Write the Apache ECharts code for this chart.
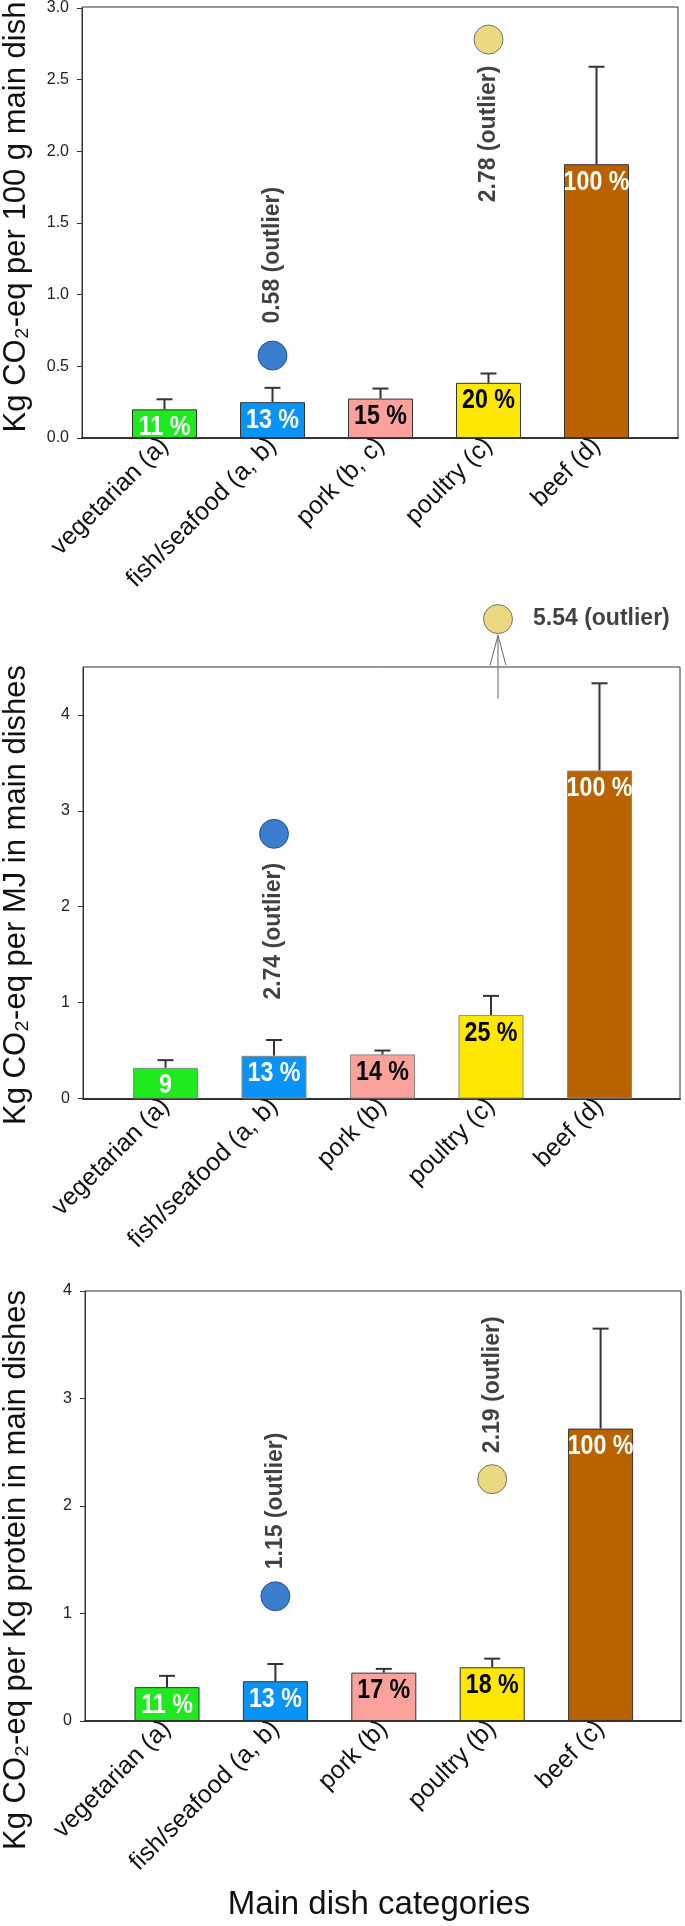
<!DOCTYPE html>
<html>
<head>
<meta charset="utf-8">
<script src="https://cdn.jsdelivr.net/npm/echarts@6/dist/echarts.min.js"></script>
<style>
html,body{margin:0;padding:0;background:#fff;}
#chart{width:685px;height:1926px;}
</style>
</head>
<body>
<div id="chart"></div>
<script>
// ---------------- DATA ----------------
const categories1 = ['vegetarian (a)', 'fish/seafood (a, b)', 'pork (b, c)', 'poultry (c)', 'beef (d)'];
const categories2 = ['vegetarian (a)', 'fish/seafood (a, b)', 'pork (b)', 'poultry (c)', 'beef (d)'];
const categories3 = ['vegetarian (a)', 'fish/seafood (a, b)', 'pork (b)', 'poultry (b)', 'beef (c)'];

const means1 = [0.20, 0.25, 0.275, 0.385, 1.91];
const upper1 = [0.27, 0.35, 0.345, 0.45, 2.59];
const pct1 = ['11 %', '13 %', '15 %', '20 %', '100 %'];

const means2 = [0.32, 0.445, 0.46, 0.87, 3.42];
const upper2 = [0.40, 0.61, 0.50, 1.07, 4.33];
const pct2 = ['9', '13 %', '14 %', '25 %', '100 %'];

const means3 = [0.315, 0.37, 0.45, 0.50, 2.72];
const upper3 = [0.42, 0.53, 0.485, 0.58, 3.65];
const pct3 = ['11 %', '13 %', '17 %', '18 %', '100 %'];

// outliers: category index, plotted value, label
const outlierIdx1 = [1, 3];
const outlierVal1 = [0.575, 2.78];
const outlierTxt1 = ['0.58 (outlier)', '2.78 (outlier)'];

const outlierIdx2 = [1, 3];
const outlierVal2 = [2.76, 5.0];          // 5.54 is off-scale, drawn just above the frame
const outlierTxt2 = ['2.74 (outlier)', '5.54 (outlier)'];
const arrowIdx2 = 3;
const arrowFrom2 = 4.17;
const arrowTo2 = 4.83;

const outlierIdx3 = [1, 3];
const outlierVal3 = [1.16, 2.25];
const outlierTxt3 = ['1.15 (outlier)', '2.19 (outlier)'];

const yMax = [3, 4.5, 4];
const yInterval = [0.5, 1, 1];

const yTitles = ['Kg CO\u2082-eq per 100 g main dish', 'Kg CO\u2082-eq per MJ in main dishes', 'Kg CO\u2082-eq per Kg protein in main dishes'];
const xTitle = 'Main dish categories';

// ---------------- STYLE ----------------
const FONT = '"Liberation Sans", Arial, sans-serif';
const barColors = ['#1DEB1D', '#0A93F7', '#F9A19A', '#FFE800', '#BA6100'];
const pctColors = ['#ffffff', '#ffffff', '#000000', '#000000', '#ffffff'];
const outlierColors = ['#0B5EC2', '#E6CF62'];
const outlierBorders = ['#123f85', '#555555'];

const layouts = [
  {frameLeft: 82, frameWidth: 596, mainLeft: 110.5, mainWidth: 540, top: 7, height: 431, barBorder: '#333'},
  {frameLeft: 83, frameWidth: 597, mainLeft: 111.25, mainWidth: 542.5, top: 667, height: 431.5, barBorder: '#8a8a8a'},
  {frameLeft: 85, frameWidth: 596, mainLeft: 112.8, mainWidth: 542, top: 1291, height: 430, barBorder: '#333'}
];

const outlierLabelPos = [
  [{position: 'top', distance: 17, rotate: 90, align: 'left'}, {position: 'bottom', distance: 11, rotate: 90, align: 'right'}],
  [{position: 'bottom', distance: 14, rotate: 90, align: 'right'}, {position: 'right', distance: 13, rotate: 0, align: 'left', offset: [7, 0]}],
  [{position: 'top', distance: 12, rotate: 90, align: 'left'}, {position: 'top', distance: 11, rotate: 90, align: 'left'}]
];

const panels = [
  {cats: categories1, means: means1, upper: upper1, pct: pct1, oi: outlierIdx1, ov: outlierVal1, ot: outlierTxt1},
  {cats: categories2, means: means2, upper: upper2, pct: pct2, oi: outlierIdx2, ov: outlierVal2, ot: outlierTxt2},
  {cats: categories3, means: means3, upper: upper3, pct: pct3, oi: outlierIdx3, ov: outlierVal3, ot: outlierTxt3}
];

const grid = [], xAxis = [], yAxis = [], series = [];

panels.forEach(function (p, k) {
  const L = layouts[k];
  const gMain = 2 * k, gFrame = 2 * k + 1;
  grid.push({left: L.mainLeft, top: L.top, width: L.mainWidth, height: L.height, show: false});
  grid.push({left: L.frameLeft, top: L.top, width: L.frameWidth, height: L.height, show: true,
    borderColor: '#333', borderWidth: 1, backgroundColor: 'transparent'});

  xAxis.push({
    gridIndex: gMain, type: 'category', data: p.cats,
    axisLine: {show: false}, axisTick: {show: false},
    axisLabel: {rotate: 45, margin: 4, padding: [34, 0, 0, 0], fontSize: 25, fontFamily: FONT, color: '#111', interval: 0}
  });
  xAxis.push({
    gridIndex: gFrame, type: 'value', min: 0, max: 1,
    axisLabel: {show: false}, axisTick: {show: false}, splitLine: {show: false},
    axisLine: {show: true, lineStyle: {color: '#333', width: 2}}
  });
  yAxis.push({
    gridIndex: gMain, type: 'value', min: 0, max: yMax[k], interval: yInterval[k],
    offset: L.mainLeft - L.frameLeft,
    axisLine: {show: true, lineStyle: {color: '#333', width: 1}},
    axisTick: {show: true, length: 5, lineStyle: {color: '#333'}},
    splitLine: {show: false},
    axisLabel: {
      margin: 13, fontSize: 16, fontFamily: FONT, color: '#222', showMaxLabel: k !== 1,
      formatter: function (v) { return k === 0 ? v.toFixed(1) : String(v); }
    }
  });
  yAxis.push({gridIndex: gFrame, type: 'value', min: 0, max: 1, show: false});

  // bars
  series.push({
    type: 'bar', xAxisIndex: gMain, yAxisIndex: gMain, barWidth: 65, z: 2,
    data: p.means.map(function (v, i) {
      return {value: v, itemStyle: {color: barColors[i]}};
    }),
    itemStyle: {borderColor: L.barBorder, borderWidth: 1}
  });

  // condensed bold percentage labels inside the bars
  series.push({
    type: 'custom', xAxisIndex: gMain, yAxisIndex: gMain, z: 5, clip: false,
    data: p.means.map(function (v, i) { return [i, v]; }),
    renderItem: function (params, api) {
      const i = api.value(0);
      const c = api.coord([i, api.value(1)]);
      return {
        type: 'text', x: c[0], y: c[1] + 18, scaleX: 0.86,
        style: {text: p.pct[params.dataIndex], fontSize: 27, fontWeight: 'bold', fontFamily: FONT,
          fill: pctColors[params.dataIndex], align: 'center', verticalAlign: 'middle'}
      };
    }
  });

  // error bars (upper only)
  series.push({
    type: 'custom', xAxisIndex: gMain, yAxisIndex: gMain, z: 3, clip: false,
    data: p.means.map(function (v, i) { return [i, v, p.upper[i]]; }),
    renderItem: function (params, api) {
      const a = api.coord([api.value(0), api.value(1)]);
      const b = api.coord([api.value(0), api.value(2)]);
      const st = {stroke: '#333', lineWidth: 2};
      return {type: 'group', children: [
        {type: 'line', shape: {x1: a[0], y1: a[1], x2: b[0], y2: b[1]}, style: st},
        {type: 'line', shape: {x1: b[0] - 8, y1: b[1], x2: b[0] + 8, y2: b[1]}, style: st}
      ]};
    }
  });

  // outliers
  series.push({
    type: 'scatter', xAxisIndex: gMain, yAxisIndex: gMain, z: 4, clip: false, symbolSize: 29,
    data: p.oi.map(function (ci, j) {
      const lp = outlierLabelPos[k][j];
      return {
        value: [ci, p.ov[j]],
        symbolOffset: lp.offset || [0, 0],
        itemStyle: {color: outlierColors[j], borderColor: outlierBorders[j], borderWidth: 1},
        label: {
          show: true, formatter: p.ot[j], position: lp.position, distance: lp.distance,
          rotate: lp.rotate, align: lp.align, verticalAlign: 'middle',
          offset: lp.offset ? [lp.offset[0], 0] : [0, 0],
          fontSize: 23, fontWeight: 'bold', fontFamily: FONT, color: '#111'
        }
      };
    })
  });
});

// arrow for the off-scale outlier in panel 2
series.push({
  type: 'custom', xAxisIndex: 2, yAxisIndex: 2, z: 3, clip: false,
  data: [[arrowIdx2, arrowFrom2, arrowTo2]],
  renderItem: function (params, api) {
    const a = api.coord([api.value(0), api.value(1)]);
    const b = api.coord([api.value(0), api.value(2)]);
    const dx = 7;
    const st = {stroke: '#666', lineWidth: 1, fill: null};
    return {type: 'group', children: [
      {type: 'line', shape: {x1: a[0] + dx, y1: a[1], x2: b[0] + dx, y2: b[1]}, style: st},
      {type: 'polyline', shape: {points: [[b[0] + dx - 8, b[1] + 30], [b[0] + dx, b[1]], [b[0] + dx + 8, b[1] + 30]]}, style: st}
    ]};
  }
});

const titleCenters = [217, 895, 1570];
const graphic = yTitles.map(function (t, k) {
  return {
    type: 'text', x: 16, y: titleCenters[k], rotation: Math.PI / 2,
    style: {text: t, fontSize: 31, fontFamily: FONT, fill: '#111', align: 'center', verticalAlign: 'middle'}
  };
});
graphic.push({
  type: 'text', x: 379, y: 1905,
  style: {text: xTitle, fontSize: 33, fontFamily: FONT, fill: '#111', align: 'center', verticalAlign: 'middle'}
});

const chart = echarts.init(document.getElementById('chart'), null, {renderer: 'canvas'});
chart.setOption({
  animation: false,
  backgroundColor: '#ffffff',
  grid: grid, xAxis: xAxis, yAxis: yAxis, series: series, graphic: graphic
});
</script>
</body>
</html>
